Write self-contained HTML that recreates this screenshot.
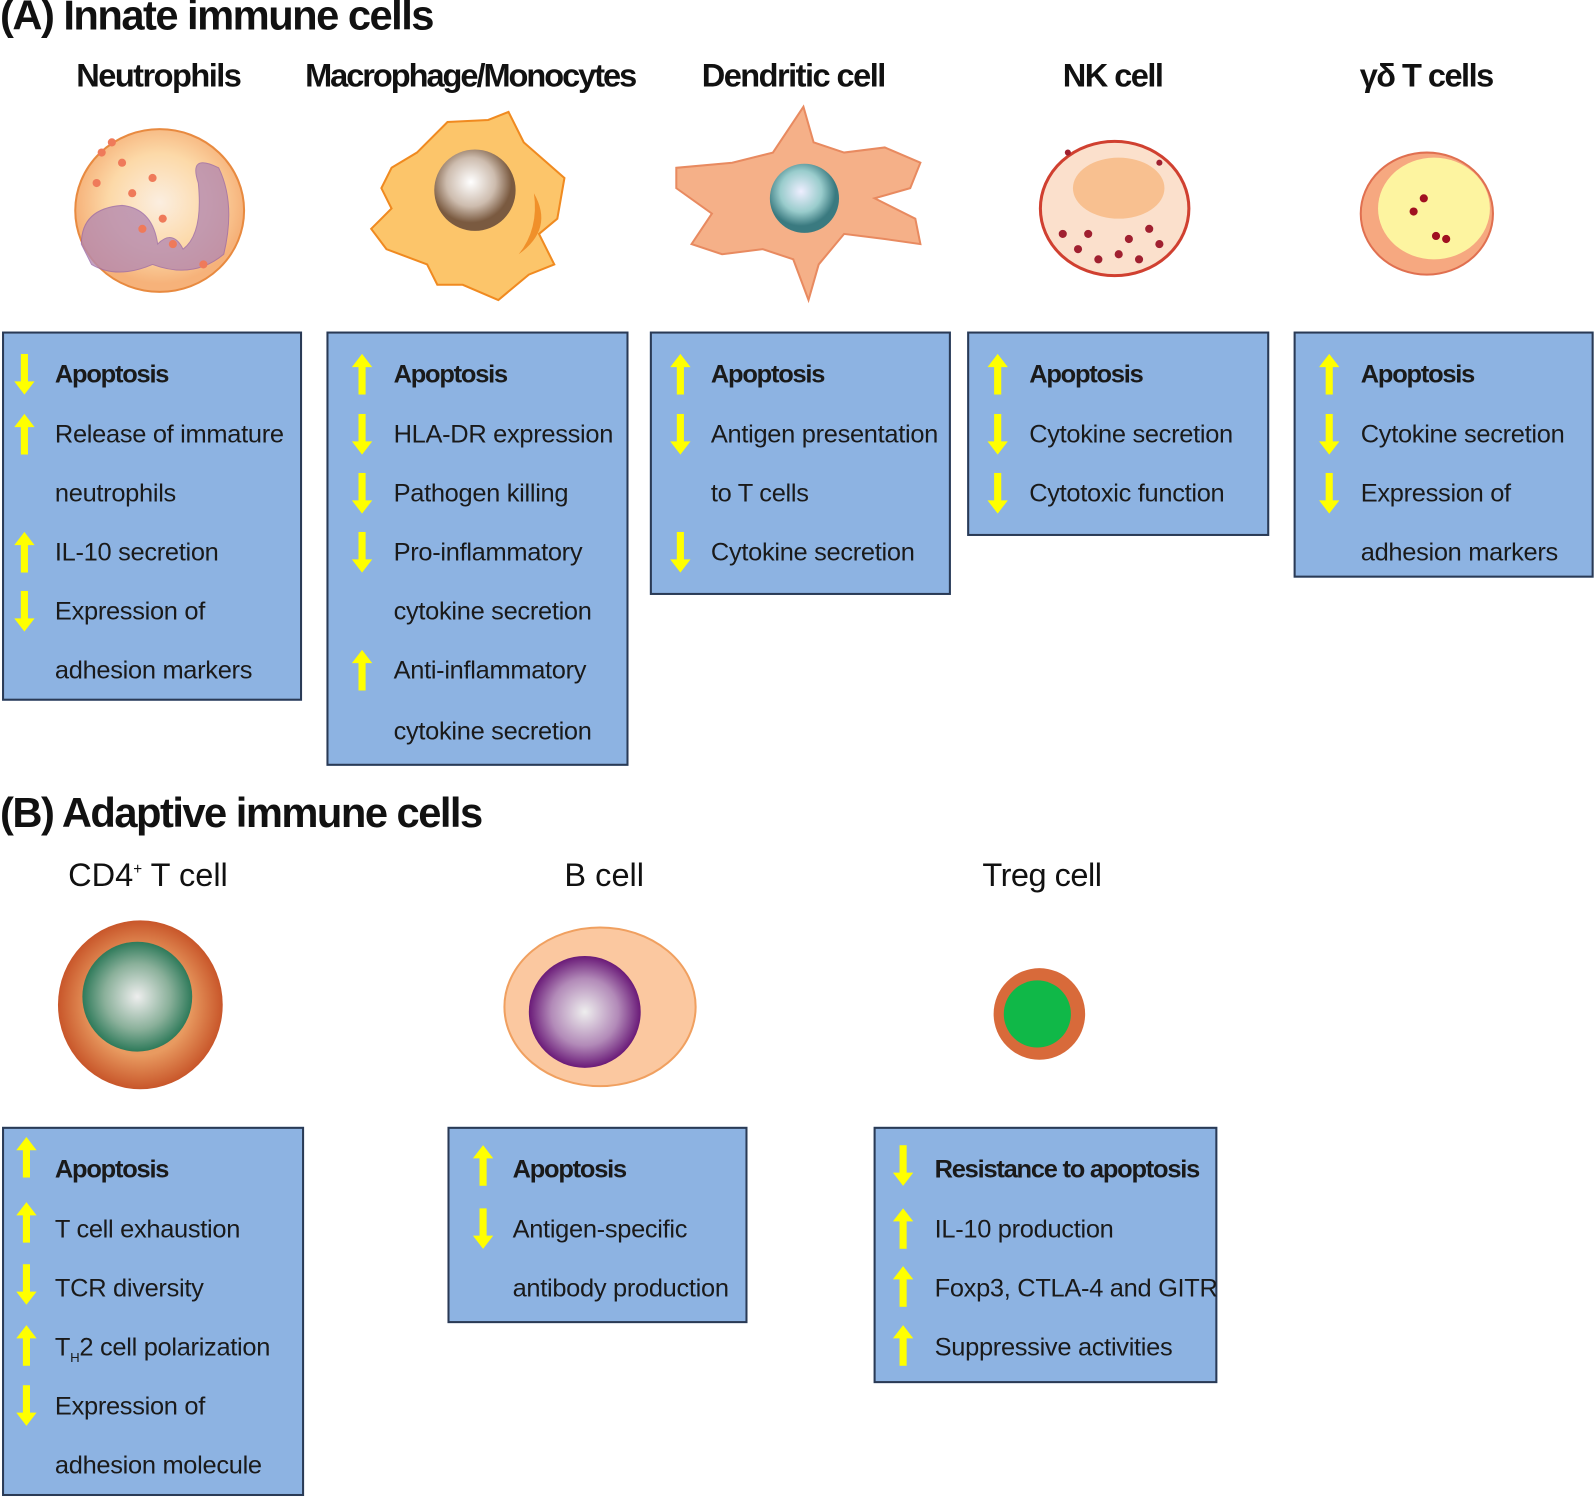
<!DOCTYPE html>
<html><head><meta charset="utf-8"><style>
body{margin:0;width:1595px;height:1497px;background:#fff;position:relative;font-family:"Liberation Sans",Arial,sans-serif;overflow:hidden}
#w{position:absolute;left:0;top:0;width:1568px;height:1472px;transform:scale(1.017);transform-origin:0 0}
.t{position:absolute;white-space:nowrap;color:#111}
.h{font-size:32px;font-weight:bold;letter-spacing:-1.5px;top:56px}
.hb{font-size:32px;top:842px}
.box{position:absolute;background:#8db3e2;border:2px solid #2a3a55;box-sizing:border-box}
.l{position:absolute;font-size:25px;color:#1a1a1a;white-space:nowrap;line-height:30px;letter-spacing:-0.3px}
.b{font-weight:bold;letter-spacing:-1.2px}
.a{position:absolute;width:20px;height:40px;margin-left:-2px;margin-top:-2px}
</style></head><body><div id="w">
<svg width="0" height="0" style="position:absolute"><defs>
<symbol id="up" viewBox="0 0 20 40"><polygon points="10,0 20,13 13.5,13 13.5,40 6.5,40 6.5,13 0,13" fill="#ffff00"/></symbol>
<symbol id="dn" viewBox="0 0 20 40"><polygon points="6.5,0 13.5,0 13.5,27 20,27 10,40 0,27 6.5,27" fill="#ffff00"/></symbol>
<radialGradient id="g1" cx="50%" cy="45%"><stop offset="0" stop-color="#fbeee0"/><stop offset="0.6" stop-color="#fcd9a8"/><stop offset="1" stop-color="#f6b27a"/></radialGradient>
<radialGradient id="nuc1" cx="45%" cy="40%"><stop offset="0" stop-color="#fff"/><stop offset="0.6" stop-color="#cdbcae"/><stop offset="1" stop-color="#7a5a40"/></radialGradient>
<radialGradient id="nuc2" cx="45%" cy="40%"><stop offset="0" stop-color="#eef"/><stop offset="0.6" stop-color="#9cc"/><stop offset="1" stop-color="#3a7a80"/></radialGradient>
<radialGradient id="nuc3" cx="50%" cy="50%"><stop offset="0" stop-color="#eee"/><stop offset="0.6" stop-color="#8ab09a"/><stop offset="1" stop-color="#2e7a5a"/></radialGradient>
<radialGradient id="nuc4" cx="50%" cy="50%"><stop offset="0" stop-color="#eee"/><stop offset="0.6" stop-color="#b28ab8"/><stop offset="1" stop-color="#6a1a78"/></radialGradient>
<radialGradient id="cd4" cx="50%" cy="50%"><stop offset="0.6" stop-color="#e89a60"/><stop offset="1" stop-color="#c8562a"/></radialGradient>
</defs></svg>

<div class="t" style="left:0;top:-8px;font-size:41px;font-weight:bold;letter-spacing:-1.5px">(A) Innate immune cells</div>
<div class="t h" style="left:75px">Neutrophils</div>
<div class="t h" style="left:300px;letter-spacing:-2px">Macrophage/Monocytes</div>
<div class="t h" style="left:690px">Dendritic cell</div>
<div class="t h" style="left:1045px">NK cell</div>
<div class="t h" style="left:1337px">γδ T cells</div>

<svg style="position:absolute;left:0;top:0" width="1568" height="1472">
<ellipse cx="157" cy="207" rx="83" ry="80" fill="url(#g1)" stroke="#e88a40" stroke-width="2"/>
<path d="M80 240 Q80 205 120 202 Q150 205 155 240 Q170 225 180 245 Q200 230 195 180 Q185 150 215 165 Q232 200 220 250 Q190 275 150 260 Q115 275 90 260Z" fill="#b58ab0" opacity="0.8" stroke="#9a6aa8"/>
<g fill="#ef7a5a"><circle cx="100" cy="150" r="4"/><circle cx="120" cy="160" r="4"/><circle cx="95" cy="180" r="4"/><circle cx="130" cy="190" r="4"/><circle cx="150" cy="175" r="4"/><circle cx="160" cy="215" r="4"/><circle cx="140" cy="225" r="4"/><circle cx="110" cy="140" r="4"/><circle cx="170" cy="240" r="4"/><circle cx="200" cy="260" r="4"/></g>
<path d="M385 165 L410 150 L440 120 L480 118 L500 110 L515 140 L555 175 L548 215 L530 230 L545 260 L520 270 L490 295 L455 280 L430 280 L420 260 L380 245 L365 225 L385 205 L375 185Z" fill="#fcc56a" stroke="#f08a20" stroke-width="2"/>
<circle cx="467" cy="187" r="40" fill="url(#nuc1)"/>
<path d="M525 190 Q545 225 510 250 Q530 225 525 190Z" fill="#f0902a"/>
<path d="M665 165 L720 160 L760 150 L790 105 L800 140 L830 150 L870 145 L905 160 L895 185 L860 195 L900 215 L905 240 L870 235 L830 230 L805 260 L795 295 L780 255 L750 245 L710 250 L680 240 L700 210 L665 185Z" fill="#f5b088" stroke="#e88a60" stroke-width="2"/>
<circle cx="791" cy="195" r="34" fill="url(#nuc2)"/>
<ellipse cx="1096" cy="205" rx="73" ry="66" fill="#fbe0cc" stroke="#d04030" stroke-width="3"/>
<ellipse cx="1100" cy="185" rx="45" ry="30" fill="#f8c090"/>
<g fill="#a02030"><circle cx="1045" cy="230" r="4"/><circle cx="1060" cy="245" r="4"/><circle cx="1080" cy="255" r="4"/><circle cx="1100" cy="250" r="4"/><circle cx="1120" cy="255" r="4"/><circle cx="1140" cy="240" r="4"/><circle cx="1070" cy="230" r="4"/><circle cx="1110" cy="235" r="4"/><circle cx="1130" cy="225" r="4"/><circle cx="1050" cy="150" r="3"/><circle cx="1140" cy="160" r="3"/></g>
<ellipse cx="1403" cy="210" rx="65" ry="60" fill="#f6a880" stroke="#e07050" stroke-width="2"/>
<ellipse cx="1410" cy="205" rx="55" ry="50" fill="#fdf4a0"/>
<g fill="#a01020"><circle cx="1390" cy="208" r="4"/><circle cx="1400" cy="195" r="4"/><circle cx="1412" cy="232" r="4"/><circle cx="1422" cy="235" r="4"/></g>
<ellipse cx="138" cy="988" rx="81" ry="83" fill="url(#cd4)"/>
<circle cx="135" cy="980" r="54" fill="url(#nuc3)"/>
<ellipse cx="590" cy="990" rx="94" ry="78" fill="#fbc8a0" stroke="#f0a060" stroke-width="2"/>
<circle cx="575" cy="995" r="55" fill="url(#nuc4)"/>
<circle cx="1022" cy="997" r="45" fill="#d86a3a"/>
<circle cx="1020" cy="997" r="33" fill="#10b848"/>
</svg>

<div class="box" style="left:2px;top:326px;width:295px;height:363px"></div>
<div class="box" style="left:321px;top:326px;width:297px;height:427px"></div>
<div class="box" style="left:639px;top:326px;width:296px;height:259px"></div>
<div class="box" style="left:951px;top:326px;width:297px;height:201px"></div>
<div class="box" style="left:1272px;top:326px;width:295px;height:242px"></div>

<svg class="a" style="left:16px;top:350px"><use href="#dn"/></svg>
<div class="l b" style="left:54px;top:353px">Apoptosis</div>
<svg class="a" style="left:16px;top:409px"><use href="#up"/></svg>
<div class="l" style="left:54px;top:412px">Release of immature</div>
<div class="l" style="left:54px;top:470px">neutrophils</div>
<svg class="a" style="left:16px;top:525px"><use href="#up"/></svg>
<div class="l" style="left:54px;top:528px">IL-10 secretion</div>
<svg class="a" style="left:16px;top:583px"><use href="#dn"/></svg>
<div class="l" style="left:54px;top:586px">Expression of</div>
<div class="l" style="left:54px;top:644px">adhesion markers</div>

<svg class="a" style="left:348px;top:350px"><use href="#up"/></svg>
<div class="l b" style="left:387px;top:353px">Apoptosis</div>
<svg class="a" style="left:348px;top:409px"><use href="#dn"/></svg>
<div class="l" style="left:387px;top:412px">HLA-DR expression</div>
<svg class="a" style="left:348px;top:467px"><use href="#dn"/></svg>
<div class="l" style="left:387px;top:470px">Pathogen killing</div>
<svg class="a" style="left:348px;top:525px"><use href="#dn"/></svg>
<div class="l" style="left:387px;top:528px">Pro-inflammatory</div>
<div class="l" style="left:387px;top:586px">cytokine secretion</div>
<svg class="a" style="left:348px;top:641px"><use href="#up"/></svg>
<div class="l" style="left:387px;top:644px">Anti-inflammatory</div>
<div class="l" style="left:387px;top:704px">cytokine secretion</div>

<svg class="a" style="left:661px;top:350px"><use href="#up"/></svg>
<div class="l b" style="left:699px;top:353px">Apoptosis</div>
<svg class="a" style="left:661px;top:409px"><use href="#dn"/></svg>
<div class="l" style="left:699px;top:412px">Antigen presentation</div>
<div class="l" style="left:699px;top:470px">to T cells</div>
<svg class="a" style="left:661px;top:525px"><use href="#dn"/></svg>
<div class="l" style="left:699px;top:528px">Cytokine secretion</div>

<svg class="a" style="left:973px;top:350px"><use href="#up"/></svg>
<div class="l b" style="left:1012px;top:353px">Apoptosis</div>
<svg class="a" style="left:973px;top:409px"><use href="#dn"/></svg>
<div class="l" style="left:1012px;top:412px">Cytokine secretion</div>
<svg class="a" style="left:973px;top:467px"><use href="#dn"/></svg>
<div class="l" style="left:1012px;top:470px">Cytotoxic function</div>

<svg class="a" style="left:1299px;top:350px"><use href="#up"/></svg>
<div class="l b" style="left:1338px;top:353px">Apoptosis</div>
<svg class="a" style="left:1299px;top:409px"><use href="#dn"/></svg>
<div class="l" style="left:1338px;top:412px">Cytokine secretion</div>
<svg class="a" style="left:1299px;top:467px"><use href="#dn"/></svg>
<div class="l" style="left:1338px;top:470px">Expression of</div>
<div class="l" style="left:1338px;top:528px">adhesion markers</div>

<div class="t" style="left:0;top:776px;font-size:41px;font-weight:bold;letter-spacing:-1.5px">(B) Adaptive immune cells</div>
<div class="t hb" style="left:67px">CD4<sup style="font-size:15px">+</sup> T cell</div>
<div class="t hb" style="left:555px">B cell</div>
<div class="t hb" style="left:966px;letter-spacing:-0.5px">Treg cell</div>

<div class="box" style="left:2px;top:1108px;width:297px;height:363px"></div>
<div class="box" style="left:440px;top:1108px;width:295px;height:193px"></div>
<div class="box" style="left:859px;top:1108px;width:338px;height:252px"></div>

<svg class="a" style="left:18px;top:1120px"><use href="#up"/></svg>
<div class="l b" style="left:54px;top:1135px">Apoptosis</div>
<svg class="a" style="left:18px;top:1184px"><use href="#up"/></svg>
<div class="l" style="left:54px;top:1194px">T cell exhaustion</div>
<svg class="a" style="left:18px;top:1245px"><use href="#dn"/></svg>
<div class="l" style="left:54px;top:1252px">TCR diversity</div>
<svg class="a" style="left:18px;top:1305px"><use href="#up"/></svg>
<div class="l" style="left:54px;top:1310px">T<sub style="font-size:13px">H</sub>2 cell polarization</div>
<svg class="a" style="left:18px;top:1364px"><use href="#dn"/></svg>
<div class="l" style="left:54px;top:1368px">Expression of</div>
<div class="l" style="left:54px;top:1426px">adhesion molecule</div>

<svg class="a" style="left:467px;top:1128px"><use href="#up"/></svg>
<div class="l b" style="left:504px;top:1135px">Apoptosis</div>
<svg class="a" style="left:467px;top:1190px"><use href="#dn"/></svg>
<div class="l" style="left:504px;top:1194px">Antigen-specific</div>
<div class="l" style="left:504px;top:1252px">antibody production</div>

<svg class="a" style="left:880px;top:1128px"><use href="#dn"/></svg>
<div class="l b" style="left:919px;top:1135px">Resistance to apoptosis</div>
<svg class="a" style="left:880px;top:1190px"><use href="#up"/></svg>
<div class="l" style="left:919px;top:1194px">IL-10 production</div>
<svg class="a" style="left:880px;top:1247px"><use href="#up"/></svg>
<div class="l" style="left:919px;top:1252px">Foxp3, CTLA-4 and GITR</div>
<svg class="a" style="left:880px;top:1305px"><use href="#up"/></svg>
<div class="l" style="left:919px;top:1310px">Suppressive activities</div>
</div></body></html>
